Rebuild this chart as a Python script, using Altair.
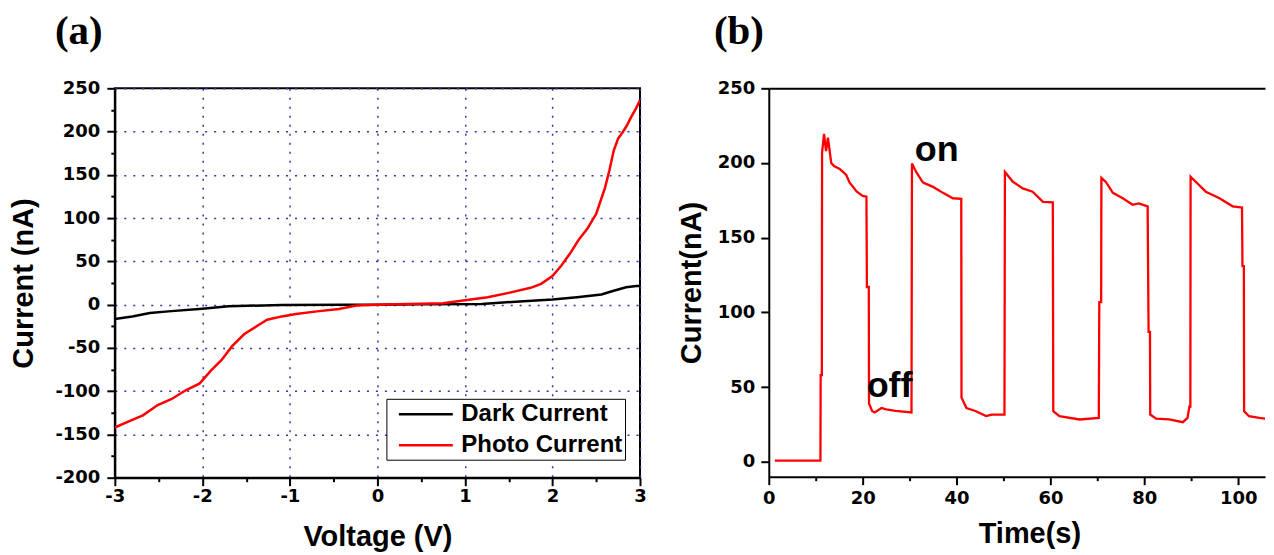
import altair as alt
import pandas as pd

# ---------------- panel (a): I-V curves ----------------
V_dark = [-3.0, -2.8, -2.6, -2.39, -2.0, -1.7, -1.09, -0.35, 0.0, 0.5, 1.19, 1.67, 2.0, 2.28, 2.56, 2.68, 2.84, 2.96, 3.0]
I_dark = [-16.7, -13.6, -9.7, -7.8, -4.7, -1.9, -0.4, 0.0, 0.0, 0.3, 0.8, 3.9, 5.8, 8.5, 11.7, 15.5, 20.0, 21.4, 21.5]

V_photo = [-3.0, -2.84, -2.68, -2.51, -2.35, -2.19, -2.03, -1.9, -1.78, -1.66, -1.52, -1.38, -1.26, -1.09,
           -0.93, -0.69, -0.44, -0.24, 0.0, 0.2, 0.5, 0.75, 1.0, 1.26, 1.5, 1.75, 1.87, 2.0, 2.1, 2.2, 2.3,
           2.4, 2.5, 2.6, 2.65, 2.7, 2.75, 2.8, 2.85, 2.9, 2.95, 3.0]
I_photo = [-142, -135, -128, -116, -109, -99, -91, -76, -64, -48, -34, -25, -17.5, -13.6,
           -10.9, -7.8, -5, -1, 0, 0.5, 1, 1.5, 5, 8.5, 13.6, 19.4, 24, 33, 45, 59, 75,
           88, 105, 135, 155, 178, 192, 199, 207, 217, 226, 236]

series_names = ["Dark Current", "Photo Current"]
series_colors = ["#000000", "#ff0000"]

# ---------------- panel (b): photo-response vs time ----------------
T_s = [1.3, 11.0, 11.05, 11.3, 11.35, 11.77, 12.2, 12.6, 13.3, 13.9, 15.1, 16.5, 17.2, 18.7, 20.0, 20.8,
       20.9, 21.3, 21.35, 22.0, 22.55, 24.0, 25.0, 27.0, 30.4,
       30.5, 31.4, 32.8, 33.5, 35.0, 37.1, 39.2, 41.0,
       41.05, 42.1, 44.0, 46.3, 47.5, 50.2,
       50.3, 52.0, 54.1, 56.2, 58.4, 60.5,
       60.6, 61.9, 66.2, 70.3,
       70.4, 70.8, 70.85, 71.8, 73.3, 75.4, 77.5, 78.8, 80.7,
       80.9, 81.2, 81.25, 82.5, 85.3, 88.2, 89.2,
       89.6, 89.8, 89.85, 91.0, 93.1, 96.0, 98.8, 100.8,
       100.9, 101.2, 101.25, 102.3, 104.5, 107.3]
I_t = [0.7, 0.7, 58, 58, 207, 219.5, 208, 217, 200, 198, 196, 192, 187, 181, 178, 177.5,
       117, 117, 39, 34, 33, 36, 35, 34, 33,
       199.6, 194, 187, 186, 184, 180, 176.4, 176,
       43, 36, 34, 30.6, 31.6, 31.6,
       194, 187.4, 183, 180.8, 174, 173.7,
       33.8, 30.5, 28.3, 29.4,
       106.8, 106.8, 190, 187.3, 180, 176.4, 172, 173, 171,
       86.9, 86.9, 31.6, 28.8, 28.3, 26.5, 29.4,
       37, 37, 190.8, 187.3, 180.8, 176.4, 171, 170.2,
       131, 131, 33.8, 30.5, 29.4, 28.3]

annot_text = ["on", "off"]
annot_t = [31.1, 20.85]
annot_i = [201.4, 43.6]

# tick positions
x_ticks_a = [-3 + 0.5 * i for i in range(13)]
y_ticks_a = list(range(-200, 251, 25))
x_ticks_b = list(range(0, 101, 10))
y_ticks_b = list(range(0, 251, 25))

TICK_FONT = "DejaVu Sans"
TITLE_FONT = "Liberation Sans"

iv = pd.concat([
    pd.DataFrame({"V": V_dark, "I": I_dark, "series": series_names[0], "k": range(len(V_dark))}),
    pd.DataFrame({"V": V_photo, "I": I_photo, "series": series_names[1], "k": range(len(V_photo))}),
], ignore_index=True)

tr = pd.DataFrame({"t": T_s, "I": I_t, "k": range(len(T_s))})
ann = pd.DataFrame({"t": annot_t, "I": annot_i, "label": annot_text})


def axis(values, major_test, title, title_pad, label_pad, grid, orient, **extra):
    kw = dict(
        values=values,
        labelExpr=f"({major_test}) ? '' + datum.value : ''",
        tickSize={"condition": {"test": major_test, "value": 8}, "value": 4},
        tickColor="black", tickWidth=2,
        domainColor="black", domainWidth=2,
        labelFont=TICK_FONT, labelFontSize=18, labelFontWeight="bold", labelColor="black",
        labelPadding=label_pad, labelFlush=False, labelOverlap=False,
        title=title, titleFont=TITLE_FONT, titleFontSize=29, titleFontWeight="bold",
        titleColor="black", titlePadding=title_pad, orient=orient,
    )
    if grid:
        kw.update(grid=True,
                  gridOpacity={"condition": {"test": major_test, "value": 1}, "value": 0},
                  gridColor="#3535a5", gridDash=[2, 7], gridWidth=1.5)
    else:
        kw.update(grid=False)
    kw.update(extra)
    return alt.Axis(**kw)


left = alt.Chart(iv).mark_line(strokeWidth=2.5, clip=True).encode(
    x=alt.X("V:Q", scale=alt.Scale(domain=[-3, 3], nice=False),
            axis=axis(x_ticks_a, "datum.value % 1 === 0", "Voltage (V)", 17, 2, True, "bottom")),
    y=alt.Y("I:Q", scale=alt.Scale(domain=[-200, 250], nice=False),
            axis=axis(y_ticks_a, "datum.value % 50 === 0", "Current (nA)", 16, 7, True, "left")),
    color=alt.Color("series:N",
                    scale=alt.Scale(domain=series_names, range=series_colors),
                    legend=alt.Legend(title=None, orient="none", legendX=272, legendY=311,
                                      symbolType="M-0.25,0H4.25", symbolSize=576, symbolStrokeWidth=2.5,
                                      labelFont=TITLE_FONT, labelFontSize=24, labelFontWeight="bold",
                                      labelColor="black", labelOffset=46, labelLimit=400,
                                      padding=2, rowPadding=5, strokeColor="black",
                                      fillColor="white", cornerRadius=0)),
    order="k:Q",
).properties(
    width=526, height=390,
    view=alt.ViewBackground(stroke="black", strokeWidth=2),
    title=alt.TitleParams("(a)", font="Liberation Serif", fontSize=41, fontWeight="bold",
                          anchor="start", frame="group", dx=-60, offset=26, color="black"),
)

xs_b = alt.Scale(domain=[0, 105.7], nice=False)
ys_b = alt.Scale(domain=[-10, 250], nice=False)

line_b = alt.Chart(tr).mark_line(color="#ff0000", strokeWidth=2.3, clip=True).encode(
    x=alt.X("t:Q", scale=xs_b,
            axis=axis(x_ticks_b, "datum.value % 20 === 0", "Time(s)", 12, 5, False, "bottom",
                      titleX=261, titleAlign="center")),
    y=alt.Y("I:Q", scale=ys_b,
            axis=axis(y_ticks_b, "datum.value % 50 === 0", "Current(nA)", 11, 6, False, "left")),
    order="k:Q",
)

text_b = alt.Chart(ann).mark_text(font=TITLE_FONT, fontSize=36, fontWeight="bold", align="left",
                                  baseline="alphabetic", color="black").encode(
    x=alt.X("t:Q", scale=xs_b,
            axis=alt.Axis(orient="top", labels=False, ticks=False, title=None, grid=False,
                          domain=True, domainColor="black", domainWidth=2)),
    y=alt.Y("I:Q", scale=ys_b),
    text="label:N",
)

right = alt.layer(line_b, text_b).properties(
    width=497, height=389,
    view=alt.ViewBackground(stroke="transparent"),
    title=alt.TitleParams("(b)", font="Liberation Serif", fontSize=41, fontWeight="bold",
                          anchor="start", frame="group", dx=-55, offset=26, color="black"),
)

chart = alt.hconcat(left, right, spacing=28).configure(background="white").properties(
    padding={"left": 0, "top": 2, "right": 0, "bottom": 0}
)

chart.save("out.html", embed_options={"renderer": "svg", "actions": False})
